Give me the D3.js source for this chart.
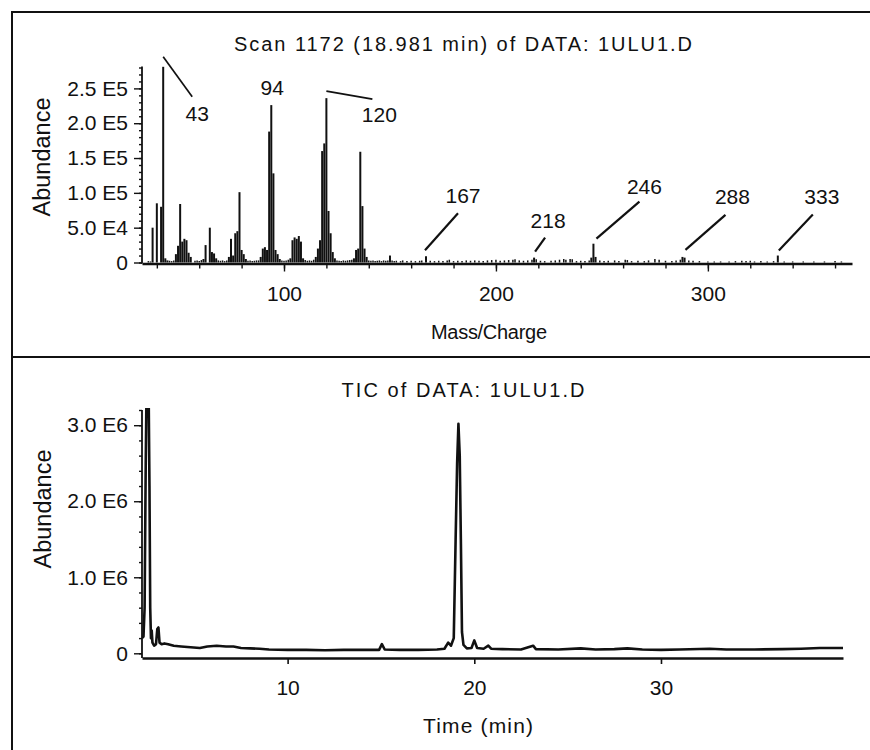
<!DOCTYPE html>
<html><head><meta charset="utf-8">
<script src="https://cdn.jsdelivr.net/npm/d3@7"></script>
<style>
body{margin:0;background:#fff}
text{font-family:"Liberation Sans",Arial,Helvetica,sans-serif;fill:#111}
</style>
</head><body>
<svg id="c" width="870" height="750"></svg>
<script>
// ---------- DATA ----------
// Mass spectrum, scan 1172: m/z and abundance of the main peaks
const specMz = [38,40,42,43,44,45,
  49,50,51,52,53,54,55,56,
  62,63,65,66,67,68,
  74,75,76,77,78,79,80,81,82,
  89,90,91,92,93,94,95,96,97,98,
  103,104,105,106,107,108,109,
  115,116,117,118,119,120,121,122,123,124,
  133,134,135,136,137,138,139,
  150,167,218,245,246,247,288,289,333];
const specAbund = [50000,85000,80000,281000,6000,3000,
  12000,24000,84000,30000,34000,32000,14000,8000,
  5000,25000,50000,15000,13000,6000,
  8000,34000,10000,42000,45000,101000,18000,12000,5000,
  8000,20000,22000,18000,188000,226000,128000,18000,12000,5000,
  6000,32000,36000,34000,38000,30000,6000,
  8000,20000,32000,160000,171000,236000,74000,42000,15000,6000,
  6000,18000,20000,159000,81000,20000,8000,
  10000,9000,7000,7000,27000,8000,8000,7000,10000];
// small background ions along the baseline
const noiseMz = [36,37,46,47,48,58,59,60,61,69,70,71,72,73,83,84,85,86,87,88,99,100,101,102,
  110,111,112,113,114,125,126,127,128,129,130,131,132,140,141,142,143,144,145,146,147,148,149,
  151,152,153,155,156,158,160,162,164,165,169,171,173,175,177,178,180,182,184,186,188,190,192,
  194,196,198,200,202,204,206,208,209,211,213,215,217,219,221,223,226,228,230,232,233,235,236,
  238,240,242,244,249,251,253,256,258,261,262,264,267,270,272,275,277,280,283,285,287,291,293,
  296,300,303,306,310,313,316,318,320,322,325,328,331,336,340,345,350,355,360,363];
const noiseAbund = [2000,1500,2500,2000,3000,2500,3000,2000,3500,3000,2500,3000,2000,3000,2500,3000,2000,2500,3000,3000,3000,2500,3000,4000,
  3500,2500,3000,2500,4000,3000,2500,2000,3000,2500,3000,3500,4000,3000,2500,3000,2000,2500,3000,2000,3000,2500,3000,
  3000,2000,2500,2000,3000,2000,2500,2000,2500,3000,2500,2000,2500,2000,3000,4000,2000,2500,2000,3000,2500,3000,2500,
  2000,3000,3500,4000,2500,3000,3500,4000,4500,3000,2500,3000,4000,4500,2500,2000,2500,3000,4000,5000,4000,5000,4500,
  2000,2500,2000,3000,3000,2000,2500,3000,2000,4000,3500,2000,2500,2000,3000,5000,4000,2500,2000,3000,4000,3000,2500,
  2000,1500,1500,1500,1500,2000,2500,2000,2500,1500,2000,1500,2000,1500,1500,1500,1500,1500,2000,1500];
// labelled ions
const annotMz = [43,94,120,167,218,246,288,333];
const annotText = ["43","94","120","167","218","246","288","333"];

// Mass axis ticks
const massMinorTicks = [40,60,80,100,120,140,160,180,200,220,240,260,280,300,320,340,360];
const massMajorTicks = [100,200,300];
const specYMinor = [0,10000,20000,30000,40000,50000,60000,70000,80000,90000,100000,110000,120000,130000,140000,
  150000,160000,170000,180000,190000,200000,210000,220000,230000,240000,250000,260000,270000,280000];
const specYMajor = [0,50000,100000,150000,200000,250000];
const specYLabels = ["0","5.0 E4","1.0 E5","1.5 E5","2.0 E5","2.5 E5"];

// Total ion chromatogram
const ticTime = [2.20,2.28,2.34,2.40,2.45,2.55,2.60,2.64,2.68,2.72,2.76,2.85,2.95,3.02,3.08,3.14,3.25,3.40,3.60,3.90,
  4.30,4.80,5.30,5.70,6.20,6.70,7.10,7.50,8.00,8.50,9.00,10.0,11.0,12.0,13.0,14.0,14.9,15.05,15.2,16.0,17.0,18.0,
  18.4,18.6,18.75,18.9,19.0,19.08,19.15,19.22,19.28,19.34,19.42,19.6,19.85,20.0,20.15,20.5,20.75,20.9,21.5,22.5,
  23.15,23.3,24.5,25.7,26.5,27.5,28.2,29.0,30.0,31.0,32.6,33.5,35.0,36.5,37.5,38.5,39.75];
const ticAbund = [200000,220000,600000,2500000,3600000,3600000,2200000,600000,200000,300000,140000,100000,120000,320000,340000,140000,120000,130000,120000,100000,
  90000,80000,70000,90000,100000,90000,90000,70000,65000,60000,50000,45000,45000,40000,45000,45000,45000,120000,50000,45000,45000,50000,
  60000,140000,100000,200000,1500000,2500000,3020000,2600000,1500000,280000,110000,65000,70000,170000,70000,60000,100000,60000,55000,50000,
  100000,55000,50000,65000,50000,55000,65000,50000,45000,50000,60000,50000,50000,55000,60000,70000,70000];
const timeTicks = [10,20,30];
const ticYMinor = [0,200000,400000,600000,800000,1000000,1200000,1400000,1600000,1800000,2000000,2200000,2400000,
  2600000,2800000,3000000,3200000];
const ticYMajor = [0,1000000,2000000,3000000];
const ticYLabels = ["0","1.0 E6","2.0 E6","3.0 E6"];

const titleTop = "Scan 1172 (18.981 min) of DATA: 1ULU1.D";
const titleBottom = "TIC of DATA: 1ULU1.D";

// ---------- LAYOUT ----------
const svg = d3.select("#c");
const FS = 21;

// frame
svg.append("rect").attr("x",12).attr("y",12).attr("width",880).attr("height",760)
  .attr("fill","none").attr("stroke","#111").attr("stroke-width",2);
svg.append("line").attr("x1",12).attr("x2",870).attr("y1",357).attr("y2",357)
  .attr("stroke","#111").attr("stroke-width",2);

// ===== top panel: mass spectrum =====
const xM = d3.scaleLinear().domain([33,368]).range([142,852]);
const yM = d3.scaleLinear().domain([0,280000]).range([262.5,67.5]);
const topAxisY = 263.5;

const gTop = svg.append("g");
// baseline noise
gTop.append("g").selectAll("line").data(noiseMz.map((m,i)=>[m,noiseAbund[i]])).join("line")
  .attr("x1",d=>xM(d[0])).attr("x2",d=>xM(d[0]))
  .attr("y1",yM(0)).attr("y2",d=>yM(d[1]))
  .attr("stroke","#111").attr("stroke-width",1.5);
// peaks
gTop.append("g").selectAll("line").data(specMz.map((m,i)=>[m,specAbund[i]])).join("line")
  .attr("x1",d=>xM(d[0])).attr("x2",d=>xM(d[0]))
  .attr("y1",yM(0)).attr("y2",d=>yM(d[1]))
  .attr("stroke","#111").attr("stroke-width",2);

// x axis
const axMinor = d3.axisBottom(xM).tickValues(massMinorTicks).tickSize(5).tickFormat("").tickSizeOuter(0);
const axMajor = d3.axisBottom(xM).tickValues(massMajorTicks).tickSize(8).tickPadding(15).tickFormat(d3.format("d")).tickSizeOuter(0);
const gx1 = svg.append("g").attr("transform",`translate(0,${topAxisY})`).call(axMinor);
const gx2 = svg.append("g").attr("transform",`translate(0,${topAxisY})`).call(axMajor);
[gx1,gx2].forEach(g=>{g.select(".domain").attr("stroke","#111").attr("stroke-width",2.4);
  g.selectAll(".tick line").attr("stroke","#111").attr("stroke-width",1.4);
  g.selectAll("text").attr("font-size",FS).attr("font-family",null);});
gx2.select(".domain").remove();

// y axis
const ayMinor = d3.axisLeft(yM).tickValues(specYMinor).tickSize(3).tickFormat("").tickSizeOuter(0);
const ayMajor = d3.axisLeft(yM).tickValues(specYMajor).tickSize(8).tickPadding(6)
  .tickFormat((d,i)=>specYLabels[i]).tickSizeOuter(0);
const gy1 = svg.append("g").attr("transform","translate(142,0)").call(ayMinor);
const gy2 = svg.append("g").attr("transform","translate(142,0)").call(ayMajor);
[gy1,gy2].forEach(g=>{g.select(".domain").remove();
  g.selectAll(".tick line").attr("stroke","#111").attr("stroke-width",1.4);
  g.selectAll("text").attr("font-size",FS).attr("font-family",null);});
svg.append("line").attr("x1",142).attr("x2",142).attr("y1",yM(280000)-1).attr("y2",topAxisY)
  .attr("stroke","#111").attr("stroke-width",1.8);

// annotations: [line start dx,dy, line end dx,dy, label dx, label baseline dy] relative to peak top
const annotLayout = [
  [0,-10, 29,30, 34,54],
  [null,null,null,null, 1,-10],
  [0,-7, 46,1, 53,24],
  [-1,-6, 32,-43, 37,-53],
  [1,-6, 11,-20, 14,-30],
  [3,-5, 46,-42, 51,-50],
  [3,-7, 43,-42, 50,-53],
  [1,-5, 35,-41, 44,-52]
];
const gAnn = svg.append("g");
annotMz.forEach((m,i)=>{
  const a = specAbund[specMz.indexOf(m)];
  const px = xM(m), py = yM(a), L = annotLayout[i];
  if(L[0]!==null){
    gAnn.append("line").attr("x1",px+L[0]).attr("y1",py+L[1]).attr("x2",px+L[2]).attr("y2",py+L[3])
      .attr("stroke","#111").attr("stroke-width",i<3?1.7:2.2);
  }
  gAnn.append("text").attr("x",px+L[4]).attr("y",py+L[5]).attr("text-anchor","middle")
    .attr("font-size",FS).text(annotText[i]);
});

// titles/labels
svg.append("text").attr("x",463).attr("y",51).attr("text-anchor","middle").attr("font-size",20)
  .attr("textLength",458).attr("lengthAdjust","spacing").text(titleTop);
svg.append("text").attr("x",489).attr("y",339).attr("text-anchor","middle").attr("font-size",20)
  .attr("textLength",116).attr("lengthAdjust","spacing").text("Mass/Charge");
svg.append("text").attr("transform","translate(50,157) rotate(-90)").attr("text-anchor","middle")
  .attr("font-size",23.5).text("Abundance");

// ===== bottom panel: TIC =====
const xT = d3.scaleLinear().domain([2.2,39.75]).range([142,843]);
const yT = d3.scaleLinear().domain([0,3200000]).range([653.3,410]);
const botAxisY = 658;

svg.append("defs").append("clipPath").attr("id","clipT").append("rect")
  .attr("x",142).attr("y",408).attr("width",710).attr("height",260);
svg.append("path").datum(ticTime.map((t,i)=>[t,ticAbund[i]]))
  .attr("clip-path","url(#clipT)")
  .attr("d",d3.line().x(d=>xT(d[0])).y(d=>yT(d[1])))
  .attr("fill","none").attr("stroke","#111").attr("stroke-width",2.6).attr("stroke-linejoin","round");

const axT = d3.axisBottom(xT).tickValues(timeTicks).tickSize(6).tickPadding(16).tickFormat(d3.format("d")).tickSizeOuter(0);
const gxt = svg.append("g").attr("transform",`translate(0,${botAxisY})`).call(axT);
gxt.select(".domain").attr("stroke","#111").attr("stroke-width",2.4);
gxt.selectAll(".tick line").attr("stroke","#111").attr("stroke-width",1.6);
gxt.selectAll("text").attr("font-size",FS).attr("font-family",null);

const atMinor = d3.axisLeft(yT).tickValues(ticYMinor).tickSize(3).tickFormat("").tickSizeOuter(0);
const atMajor = d3.axisLeft(yT).tickValues(ticYMajor).tickSize(8).tickPadding(6)
  .tickFormat((d,i)=>ticYLabels[i]).tickSizeOuter(0);
const gt1 = svg.append("g").attr("transform","translate(142,0)").call(atMinor);
const gt2 = svg.append("g").attr("transform","translate(142,0)").call(atMajor);
[gt1,gt2].forEach(g=>{g.select(".domain").remove();
  g.selectAll(".tick line").attr("stroke","#111").attr("stroke-width",1.4);
  g.selectAll("text").attr("font-size",FS).attr("font-family",null);});
svg.append("line").attr("x1",142).attr("x2",142).attr("y1",yT(3200000)).attr("y2",botAxisY)
  .attr("stroke","#111").attr("stroke-width",1.8);

svg.append("text").attr("x",463).attr("y",397).attr("text-anchor","middle").attr("font-size",20)
  .attr("textLength",243).attr("lengthAdjust","spacing").text(titleBottom);
svg.append("text").attr("x",478).attr("y",733).attr("text-anchor","middle").attr("font-size",21)
  .attr("textLength",110).attr("lengthAdjust","spacing").text("Time (min)");
svg.append("text").attr("transform","translate(51,509) rotate(-90)").attr("text-anchor","middle")
  .attr("font-size",23.5).text("Abundance");
</script>
</body></html>
